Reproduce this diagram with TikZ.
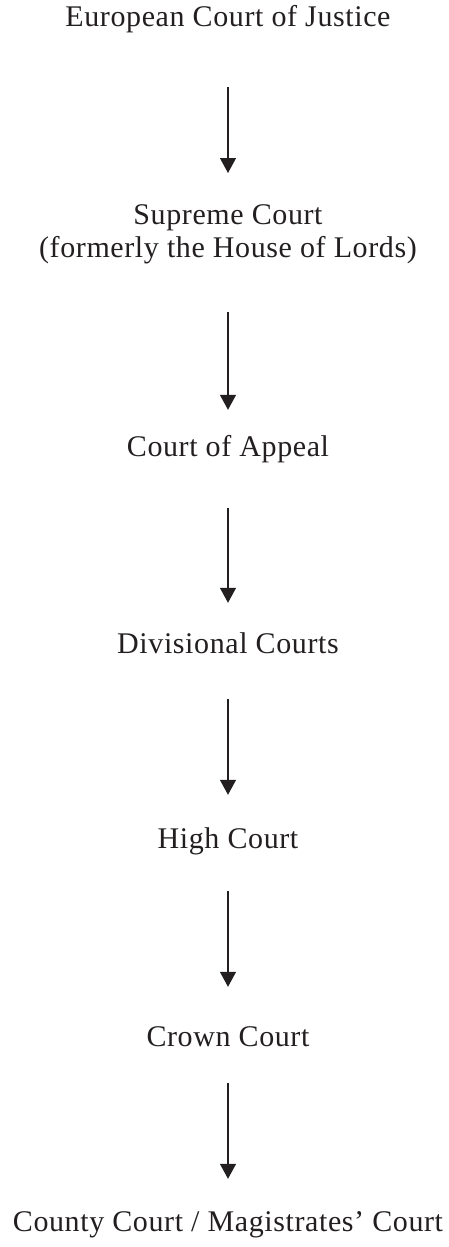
\documentclass[tikz,border=0pt]{standalone}
\usepackage{fontspec}
\setmainfont[LetterSpace=2]{Liberation Serif}
\usepackage{tikz}
\usetikzlibrary{arrows.meta}

\definecolor{ink}{HTML}{231F20}

\begin{document}
\begin{tikzpicture}[x=1pt, y=-1pt,
    court/.style={inner sep=0pt, text=ink, text height=21pt, text depth=7pt,
      font=\fontsize{30}{33}\selectfont, anchor=base},
    flow/.style={-{Triangle[width=16pt,length=15pt]}, line width=1.3pt, draw=ink}]
    \useasboundingbox (0, 0) rectangle (448, 1247);

    \node[court] (euro) at (228, 27) {European Court of Justice};
    \node[inner sep=0pt, text=ink, font=\fontsize{30}{33}\selectfont,
      align=center, anchor=north] (supreme) at (228, 204)
      {Supreme Court\\(formerly the House of Lords)};
    \node[court] (appeal) at (228, 456) {Court of Appeal};
    \node[court] (divisional) at (228, 653) {Divisional Courts};
    \node[court] (high) at (228, 848) {High Court};
    \node[court] (crown) at (228, 1046) {Crown Court};
    \node[court] (county) at (228, 1231) {County Court / Magistrates’ Court};

    \draw[flow, shorten <=53pt, shorten >=31pt] (euro.south) -- (supreme.north);
    \draw[flow, shorten <=48pt, shorten >=25pt] (supreme.south) -- (appeal.north);
    \draw[flow, shorten <=45pt, shorten >=29pt] (appeal.south) -- (divisional.north);
    \draw[flow, shorten <=39pt, shorten >=32pt] (divisional.south) -- (high.north);
    \draw[flow, shorten <=36pt, shorten >=38pt] (high.south) -- (crown.north);
    \draw[flow, shorten <=30pt, shorten >=31pt] (crown.south) -- (county.north);
  \end{tikzpicture}
\end{document}
